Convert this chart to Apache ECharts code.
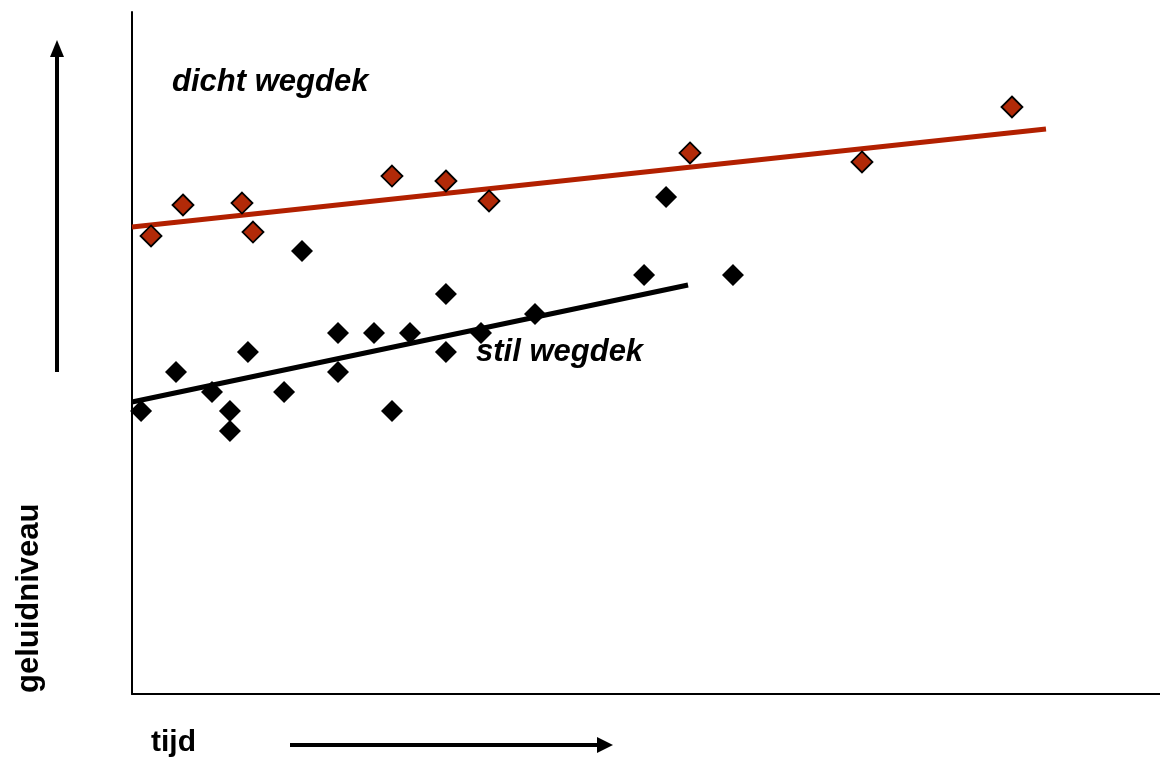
<!DOCTYPE html>
<html><head><meta charset="utf-8">
<script src="https://cdn.jsdelivr.net/npm/echarts@6/dist/echarts.min.js"></script>
<style>html,body{margin:0;padding:0;background:#fff}#c{width:1160px;height:763px}</style>
</head><body><div id="c"></div>
<script>
// dicht wegdek (dense road surface) points [tijd, geluidniveau]
const dichtX = [1.85, 4.96, 10.70, 11.77, 25.29, 30.54, 34.73, 54.28, 71.01, 85.60];
const dichtY = [67.16, 71.70, 71.99, 67.74, 75.95, 75.22, 72.29, 79.33, 78.01, 86.07];
// stil wegdek (quiet road surface) points
const stilX = [0.88, 4.28, 7.78, 9.53, 9.53, 11.28, 14.79, 16.54, 20.04, 20.04, 23.54, 25.29, 27.04, 30.54, 30.54, 33.95, 39.20, 49.81, 51.95, 58.46];
const stilY = [41.50, 47.21, 44.28, 41.50, 38.56, 50.15, 44.28, 64.96, 52.93, 47.21, 52.93, 41.50, 52.93, 58.65, 50.15, 52.93, 55.72, 61.44, 72.87, 61.44];
// trend lines [x, y] endpoints
const dichtTrendX = [0, 88.91];
const dichtTrendY = [68.48, 82.84];
const stilTrendX = [0, 54.09];
const stilTrendY = [42.82, 59.97];
const labels = { dicht: 'dicht wegdek', stil: 'stil wegdek', yName: 'geluidniveau', xName: 'tijd' };

const zip = (a, b) => a.map((v, i) => [v, b[i]]);
const chart = echarts.init(document.getElementById('c'), null, { renderer: 'canvas' });
const font = '"Liberation Sans", Arial, sans-serif';
chart.setOption({
  animation: false,
  grid: { left: 132, right: 0, top: 12, bottom: 69 },
  xAxis: { type: 'value', min: 0, max: 100, axisLine: { show: true, onZero: false, lineStyle: { color: '#000', width: 2 } },
    axisTick: { show: false }, axisLabel: { show: false }, splitLine: { show: false } },
  yAxis: { type: 'value', min: 0, max: 100, axisLine: { show: true, onZero: false, lineStyle: { color: '#000', width: 2 } },
    axisTick: { show: false }, axisLabel: { show: false }, splitLine: { show: false } },
  series: [
    { type: 'line', data: zip(dichtTrendX, dichtTrendY), symbol: 'none', lineStyle: { color: '#b22000', width: 5 }, z: 2 },
    { type: 'line', data: zip(stilTrendX, stilTrendY), symbol: 'none', lineStyle: { color: '#000', width: 5 }, z: 2 },
    { type: 'scatter', data: zip(dichtX, dichtY), symbol: 'diamond', symbolSize: 21,
      itemStyle: { color: '#b22a08', borderColor: '#000', borderWidth: 1.8, opacity: 1 }, z: 3 },
    { type: 'scatter', data: zip(stilX, stilY), symbol: 'diamond', symbolSize: 22,
      itemStyle: { color: '#000', opacity: 1 }, z: 3 }
  ],
  graphic: [
    { type: 'text', x: 172, y: 82, style: { text: labels.dicht, font: 'italic bold 31px ' + font, fill: '#000', textAlign: 'left', textVerticalAlign: 'middle' } },
    { type: 'text', x: 476, y: 352, style: { text: labels.stil, font: 'italic bold 31px ' + font, fill: '#000', textAlign: 'left', textVerticalAlign: 'middle' } },
    { type: 'text', x: 29, y: 693, rotation: Math.PI / 2, style: { text: labels.yName, font: 'bold 31px ' + font, fill: '#000', textAlign: 'left', textVerticalAlign: 'middle' } },
    { type: 'text', x: 151, y: 743, style: { text: labels.xName, font: 'bold 30px ' + font, fill: '#000', textAlign: 'left', textVerticalAlign: 'middle' } },
    { type: 'line', shape: { x1: 57, y1: 372, x2: 57, y2: 55 }, style: { stroke: '#000', lineWidth: 4 } },
    { type: 'polygon', shape: { points: [[50, 57], [64, 57], [57, 40]] }, style: { fill: '#000' } },
    { type: 'line', shape: { x1: 290, y1: 745, x2: 600, y2: 745 }, style: { stroke: '#000', lineWidth: 4 } },
    { type: 'polygon', shape: { points: [[597, 737], [597, 753], [613, 745]] }, style: { fill: '#000' } }
  ]
});
</script></body></html>
